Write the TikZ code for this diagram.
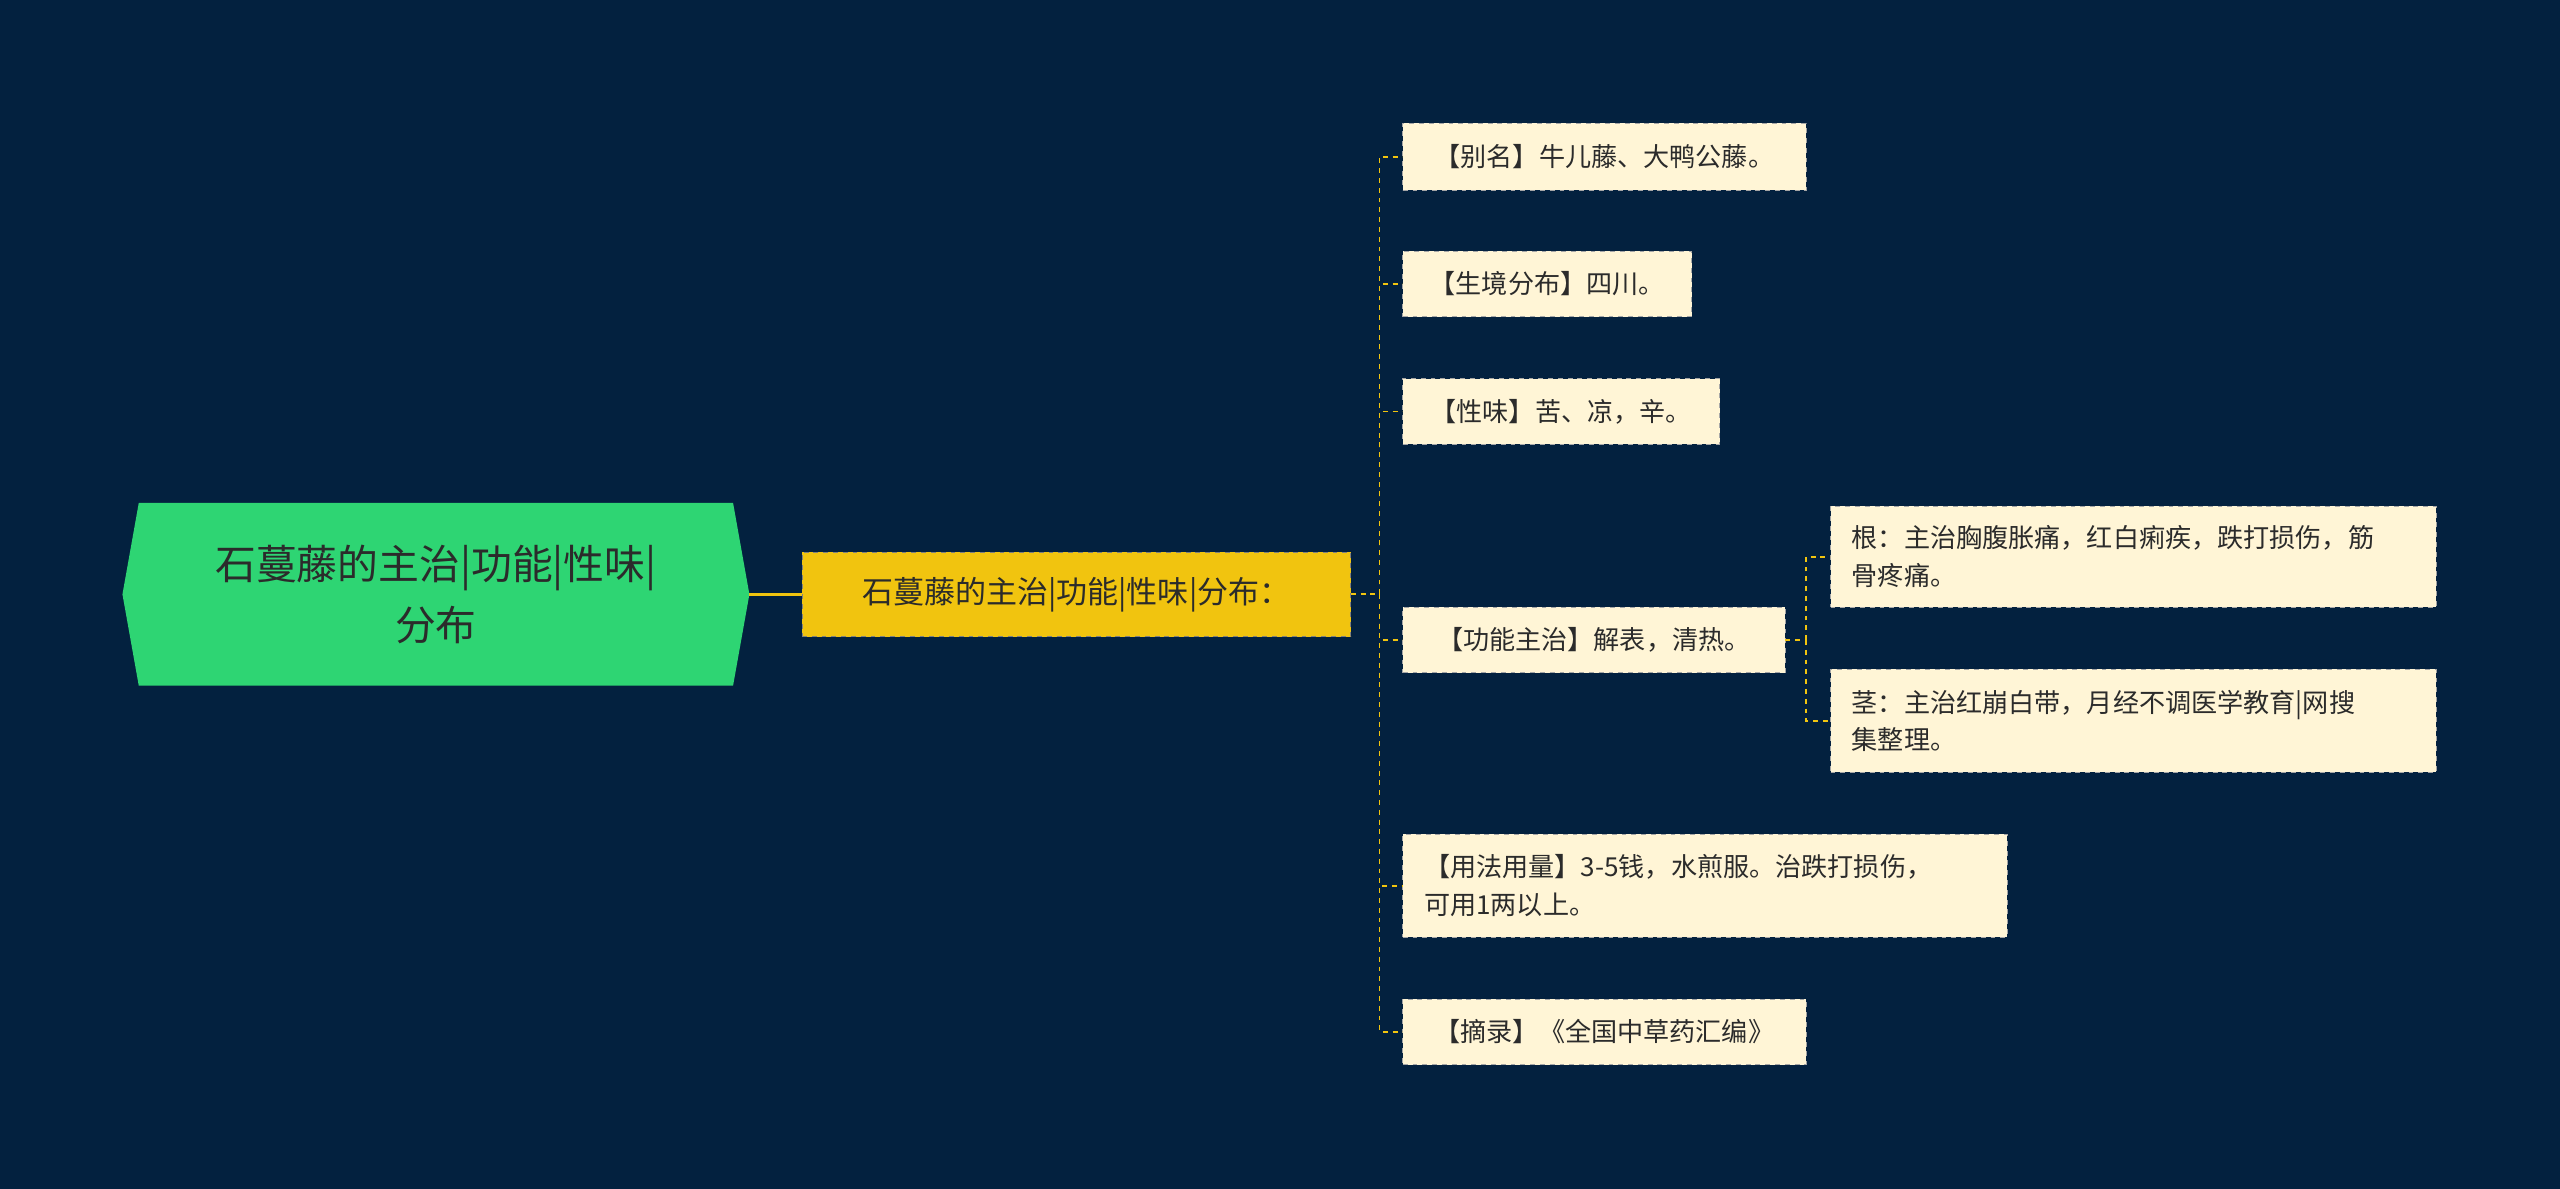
\documentclass[tikz,border=0pt]{standalone}
\usepackage{fontspec}
\setmainfont{Noto Sans CJK SC}
\definecolor{bg}{HTML}{03213F}
\definecolor{rootg}{HTML}{2ED573}
\definecolor{yel}{HTML}{F1C40F}
\definecolor{cream}{HTML}{FFF5D6}
\definecolor{txt}{HTML}{2B2B2B}
\begin{document}
\begin{tikzpicture}[x=1pt,y=-1pt,
  leaf/.style={draw=gray!70,dashed,fill=cream,text=txt,anchor=west,inner xsep=13pt,inner ysep=0pt,align=left,font=\fontsize{16}{23}\selectfont},
  conn/.style={yel,dashed,line width=1pt}]
\useasboundingbox[fill=bg] (0,0) rectangle (1568,728);
% root
\fill[rootg] (75,364) -- (85,308) -- (449,308) -- (459,364) -- (449,420) -- (85,420) -- cycle;
\node[text=txt,align=center,font=\fontsize{25}{37}\selectfont] (root) at (267,364) {石蔓藤的主治|功能|性味|\\分布};
\coordinate (rootR) at (459,364);
\node[draw=txt!60,dashed,fill=yel,text=txt,minimum width=336pt,minimum height=52pt,anchor=west,font=\fontsize{19}{24}\selectfont] (mid) at (491,364) {石蔓藤的主治|功能|性味|分布：};
\draw[yel,line width=1.5pt] (rootR) -- (mid.west);
\node[leaf,minimum width=247pt,minimum height=41pt] (l1) at (859,96) {【别名】牛儿藤、大鸭公藤。};
\node[leaf,minimum width=177pt,minimum height=40pt] (l2) at (859,174) {【生境分布】四川。};
\node[leaf,minimum width=194pt,minimum height=40pt] (l3) at (859,252) {【性味】苦、凉，辛。};
\node[leaf,minimum width=234pt,minimum height=40pt] (l4) at (859,392) {【功能主治】解表，清热。};
\node[leaf,text width=344pt,minimum height=63pt] (l5) at (859,542.5) {【用法用量】3-5钱，水煎服。治跌打损伤，\\可用1两以上。};
\node[leaf,minimum width=247pt,minimum height=40pt] (l6) at (859,632) {【摘录】《全国中草药汇编》};
\node[leaf,text width=345pt,minimum height=62pt] (s1) at (1121,341) {根：主治胸腹胀痛，红白痢疾，跌打损伤，筋\\骨疼痛。};
\node[leaf,text width=345pt,minimum height=63pt] (s2) at (1121,441.5) {茎：主治红崩白带，月经不调医学教育|网搜\\集整理。};
\coordinate (t) at (845,364);
\draw[conn] (mid.east) -- (t);
\foreach \n in {l1,l2,l3,l4,l5,l6} \draw[conn] (t) -- (t|-\n.west) -- (\n.west);
\coordinate (u) at (1106,392);
\draw[conn] (l4.east) -- (u);
\foreach \n in {s1,s2} \draw[conn] (u) -- (u|-\n.west) -- (\n.west);
\end{tikzpicture}
\end{document}
